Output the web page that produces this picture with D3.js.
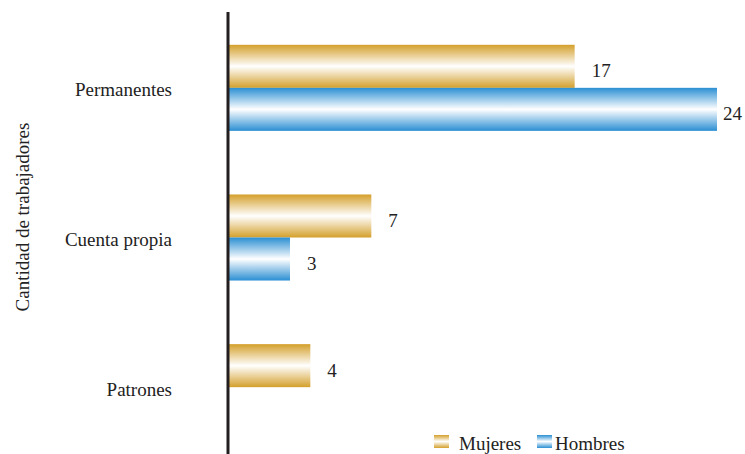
<!DOCTYPE html>
<html><head><meta charset="utf-8">
<script src="https://cdn.jsdelivr.net/npm/d3@7"></script>
<style>body{margin:0;background:#fff}svg text{font-family:'Times New Roman','Liberation Serif',Times,serif !important;fill:#222}</style>
</head><body><svg id="c" width="745" height="454"></svg>
<script>
const categories = ["Permanentes","Cuenta propia","Patrones"];
const seriesNames = ["Mujeres","Hombres"];
const mujeres = [17, 7, 4];
const hombres = [24, 3, 0];
const axisTitle = "Cantidad de trabajadores";

const FONT = "'Times New Roman','Liberation Serif',Times,serif";
const svg = d3.select("#c");
const W = 745, H = 454;
const colors = {Mujeres:"#d4a02c", Hombres:"#2b8fd3"};
const defs = svg.append("defs");
seriesNames.forEach((s,i)=>{
  const g = defs.append("linearGradient").attr("id","g"+i).attr("x1",0).attr("x2",0).attr("y1",0).attr("y2",1);
  g.append("stop").attr("offset","0%").attr("stop-color",colors[s]);
  g.append("stop").attr("offset","50%").attr("stop-color","#ffffff");
  g.append("stop").attr("offset","100%").attr("stop-color",colors[s]);
});

const x = d3.scaleLinear().domain([0,24]).range([229,717]);
const y = d3.scaleBand().domain(categories).range([13,462]).paddingInner(0.425).paddingOuter(0.2125);
const y1 = d3.scaleBand().domain(seriesNames).range([0,y.bandwidth()]);

const data = categories.map((c,i)=>({cat:c, vals:[{s:"Mujeres",v:mujeres[i]},{s:"Hombres",v:hombres[i]}]}));

const groups = svg.selectAll("g.grp").data(data).join("g").attr("class","grp")
  .attr("transform",d=>`translate(0,${y(d.cat)})`);
groups.selectAll("rect").data(d=>d.vals.filter(e=>e.v>0)).join("rect")
  .attr("x",x(0)).attr("y",d=>y1(d.s)).attr("width",d=>x(d.v)-x(0)).attr("height",y1.bandwidth())
  .attr("fill",d=>`url(#g${seriesNames.indexOf(d.s)})`);
groups.selectAll("text.val").data(d=>d.vals.filter(e=>e.v>0)).join("text").attr("class","val")
  .attr("x",d=>Math.min(x(d.v)+17, W-22)).attr("y",d=>y1(d.s)+y1.bandwidth()/2+11)
  .attr("font-family",FONT).attr("font-size",19).text(d=>d.v);

// category labels
const yAxis = d3.axisLeft(y).tickSize(0).tickPadding(0);
const ax = svg.append("g").attr("transform","translate(172,0)").call(yAxis);
ax.attr("font-family",FONT).attr("font-size",19);
ax.select(".domain").remove();
ax.selectAll("text").attr("font-size",19).attr("font-family",FONT).attr("fill","#222")
  .attr("dy",null).attr("y",0).attr("dominant-baseline","central").attr("transform","translate(0,2)");

// axis line
svg.append("line").attr("x1",228).attr("x2",228).attr("y1",12).attr("y2",H).attr("stroke","#231f20").attr("stroke-width",3);

// axis title
svg.append("text").attr("transform","translate(29,217) rotate(-90)").attr("text-anchor","middle")
  .attr("font-family",FONT).attr("font-size",19).text(axisTitle);

// legend
const leg = svg.append("g");
const legX = [434, 537];
seriesNames.forEach((s,i)=>{
  leg.append("rect").attr("x",legX[i]).attr("y",435).attr("width",15).attr("height",13).attr("fill",`url(#g${i})`);
  leg.append("text").attr("x",legX[i]+(i===0?25:18)).attr("y",450).attr("font-family",FONT).attr("font-size",19).text(s);
});
</script></body></html>
